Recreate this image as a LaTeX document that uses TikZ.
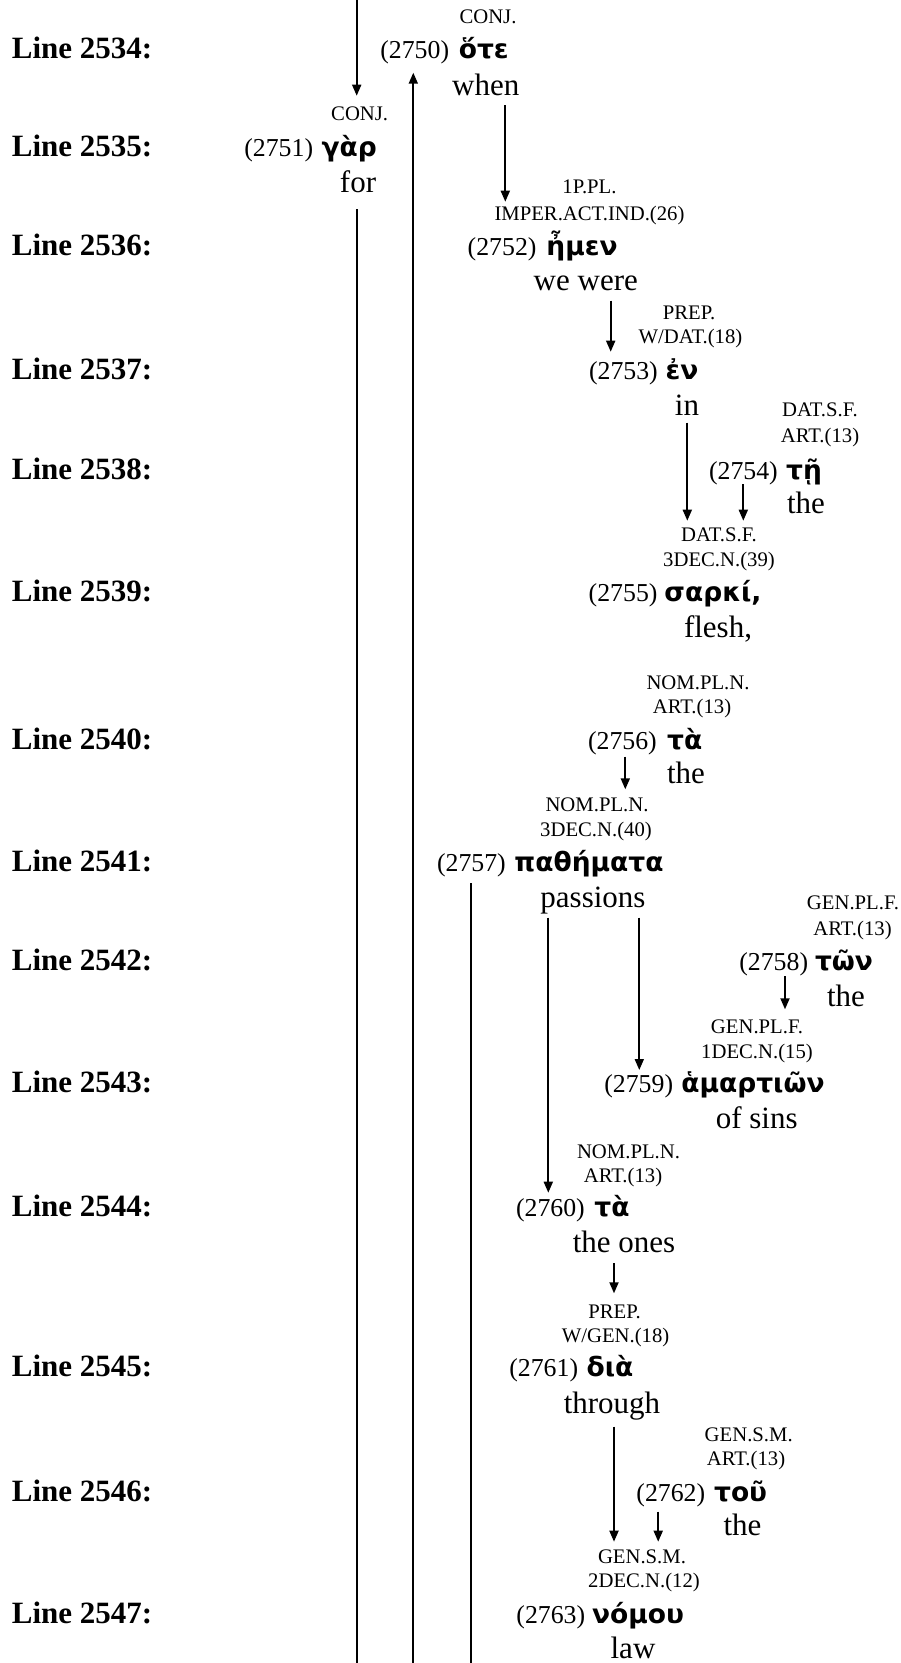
\documentclass[tikz,border=0pt]{standalone}
\usepackage{fontspec}
\setmainfont{Liberation Serif}
\newfontfamily\grkfont{DejaVu Sans}
\usetikzlibrary{arrows.meta,calc}
\tikzset{
 lbl/.style={font=\fontsize{31}{36}\selectfont\bfseries, anchor=base west, inner sep=0pt},
 tag/.style={font=\fontsize{20.7}{24}\selectfont, anchor=base, inner sep=0pt},
 num/.style={font=\fontsize{25.8}{30}\selectfont, anchor=base east, inner sep=0pt},
 grk/.style={font=\grkfont\bfseries\fontsize{26.5}{30}\selectfont, anchor=base, inner sep=0pt},
 gls/.style={font=\fontsize{31}{36}\selectfont, anchor=base, inner sep=0pt},
 arr/.style={line width=1.8pt, -{Triangle[length=11pt,width=9pt]}},
 ln/.style={line width=1.8pt},
}
\begin{document}
\begin{tikzpicture}[x=1pt,y=-1pt]
\fill[white] (0,0) rectangle (901,1663);
\useasboundingbox (0,0) rectangle (901,1663);
% line labels
\node[lbl] (L2534) at (11.7,58.3) {Line 2534:};
\node[lbl] (L2535) at (11.7,156.7) {Line 2535:};
\node[lbl] (L2536) at (11.7,255) {Line 2536:};
\node[lbl] (L2537) at (11.7,379) {Line 2537:};
\node[lbl] (L2538) at (11.7,479.3) {Line 2538:};
\node[lbl] (L2539) at (11.7,601.7) {Line 2539:};
\node[lbl] (L2540) at (11.7,749.3) {Line 2540:};
\node[lbl] (L2541) at (11.7,871.7) {Line 2541:};
\node[lbl] (L2542) at (11.7,970.7) {Line 2542:};
\node[lbl] (L2543) at (11.7,1092.7) {Line 2543:};
\node[lbl] (L2544) at (11.7,1216.7) {Line 2544:};
\node[lbl] (L2545) at (11.7,1376.7) {Line 2545:};
\node[lbl] (L2546) at (11.7,1501) {Line 2546:};
\node[lbl] (L2547) at (11.7,1623.3) {Line 2547:};
% 2750
\node[tag] (t750a) at (488,23.3) {CONJ.};
\node[grk] (g750) at (483.8,58.3) {ὅτε};
\node[num] (n750) at (449.3,58.3) {(2750)};
\node[gls] (e750) at (485.8,95) {when};
% 2751
\node[tag] (t751a) at (359.7,120.7) {CONJ.};
\node[grk] (g751) at (349.3,156.7) {γὰρ};
\node[num] (n751) at (313.3,156.7) {(2751)};
\node[gls] (e751) at (358,192.7) {for};
% 2752
\node[tag] (t752a) at (589.5,193.3) {1P.PL.};
\node[tag] (t752b) at (589.5,220) {IMPER.ACT.IND.(26)};
\node[grk] (g752) at (582,255) {ἦμεν};
\node[num] (n752) at (536.7,255) {(2752)};
\node[gls] (e752) at (585.8,290) {we were};
% 2753
\node[tag] (t753a) at (689,319) {PREP.};
\node[tag] (t753b) at (690.5,343) {W/DAT.(18)};
\node[grk] (g753) at (682,379) {ἐν};
\node[num] (n753) at (658,379) {(2753)};
\node[gls] (e753) at (687,415) {in};
% 2754
\node[tag] (t754a) at (820,416.7) {DAT.S.F.};
\node[tag] (t754b) at (820,442.7) {ART.(13)};
\node[grk] (g754) at (804,479.3) {τῇ};
\node[num] (n754) at (778,479.3) {(2754)};
\node[gls] (e754) at (806,513) {the};
% 2755
\node[tag] (t755a) at (719,541.7) {DAT.S.F.};
\node[tag] (t755b) at (719,566.7) {3DEC.N.(39)};
\node[grk] (g755) at (713,601.7) {σαρκί,};
\node[num] (n755) at (657.7,601.7) {(2755)};
\node[gls] (e755) at (718,637.3) {flesh,};
% 2756
\node[tag] (t756a) at (698,689.3) {NOM.PL.N.};
\node[tag] (t756b) at (692,713.3) {ART.(13)};
\node[grk] (g756) at (684.7,749.3) {τὰ};
\node[num] (n756) at (657,749.3) {(2756)};
\node[gls] (e756) at (686,783.3) {the};
% 2757
\node[tag] (t757a) at (597,811.7) {NOM.PL.N.};
\node[tag] (t757b) at (596,836) {3DEC.N.(40)};
\node[grk] (g757) at (589,871.7) {παθήματα};
\node[num] (n757) at (506,871.7) {(2757)};
\node[gls] (e757) at (593,907.3) {passions};
% 2758
\node[tag] (t758a) at (853,909.3) {GEN.PL.F.};
\node[tag] (t758b) at (852.5,935) {ART.(13)};
\node[grk] (g758) at (844,970.7) {τῶν};
\node[num] (n758) at (808.3,970.7) {(2758)};
\node[gls] (e758) at (846,1006) {the};
% 2759
\node[tag] (t759a) at (757,1033.3) {GEN.PL.F.};
\node[tag] (t759b) at (757,1058.3) {1DEC.N.(15)};
\node[grk] (g759) at (753,1092.7) {ἁμαρτιῶν};
\node[num] (n759) at (673.3,1092.7) {(2759)};
\node[gls] (e759) at (756.7,1128.3) {of sins};
% 2760
\node[tag] (t760a) at (628.5,1158.3) {NOM.PL.N.};
\node[tag] (t760b) at (623,1182.7) {ART.(13)};
\node[grk] (g760) at (612,1216.7) {τὰ};
\node[num] (n760) at (585,1216.7) {(2760)};
\node[gls] (e760) at (624,1252.7) {the ones};
% 2761
\node[tag] (t761a) at (614.5,1318.3) {PREP.};
\node[tag] (t761b) at (615.5,1342.7) {W/GEN.(18)};
\node[grk] (g761) at (610,1376.7) {διὰ};
\node[num] (n761) at (578.3,1376.7) {(2761)};
\node[gls] (e761) at (612,1413.3) {through};
% 2762
\node[tag] (t762a) at (748.7,1441.7) {GEN.S.M.};
\node[tag] (t762b) at (746,1465) {ART.(13)};
\node[grk] (g762) at (740.6,1501) {τοῦ};
\node[num] (n762) at (705.4,1501) {(2762)};
\node[gls] (e762) at (742.5,1535) {the};
% 2763
\node[tag] (t763a) at (642,1563.3) {GEN.S.M.};
\node[tag] (t763b) at (644,1587.7) {2DEC.N.(12)};
\node[grk] (g763) at (638,1623.3) {νόμου};
\node[num] (n763) at (585.4,1623.3) {(2763)};
\node[gls] (e763) at (633,1658.3) {law};
% connector columns and free ends
\coordinate (cA) at (356.7,0);
\coordinate (cB) at (413.3,0);
\coordinate (cC) at (471,0);
\coordinate (cD) at (505.3,0);
\coordinate (cE) at (610.7,0);
\coordinate (cF) at (687.3,0);
\coordinate (cG) at (743.3,0);
\coordinate (cH) at (625.3,0);
\coordinate (cI) at (548.3,0);
\coordinate (cJ) at (639.3,0);
\coordinate (cK) at (785,0);
\coordinate (cL) at (614,0);
\coordinate (cM) at (658.2,0);
\coordinate (bot) at (0,1663);
% connectors
\draw[arr] (cA) -- ($(cA |- t751a.base)+(0,-25)$);
\draw[ln] ($(cA |- e751.base)+(0,16.6)$) -- (cA |- bot);
\draw[arr] (cB |- bot) -- ($(cB |- n750.base)+(0,14.4)$);
\draw[ln] ($(cC |- n757.base)+(0,11.6)$) -- (cC |- bot);
\draw[arr] ($(cD |- e750.base)+(0,10)$) -- ($(cD |- t752b.base)+(0,-18.3)$);
\draw[arr] ($(cE |- e752.base)+(0,10.7)$) -- ($(cE |- n753.base)+(0,-27.3)$);
\draw[arr] ($(cF |- e753.base)+(0,7.7)$) -- ($(cF |- t755a.base)+(0,-21)$);
\draw[arr] ($(cG |- n754.base)+(0,4.7)$) -- ($(cG |- t755a.base)+(0,-21)$);
\draw[arr] ($(cH |- n756.base)+(0,7.4)$) -- ($(cH |- t757a.base)+(0,-22.4)$);
\draw[arr] ($(cI |- e757.base)+(0,10.4)$) -- ($(cI |- n760.base)+(0,-24)$);
\draw[arr] ($(cJ |- e757.base)+(0,10.4)$) -- ($(cJ |- n759.base)+(0,-22.7)$);
\draw[arr] ($(cK |- n758.base)+(0,5.3)$) -- ($(cK |- t759a.base)+(0,-24)$);
\draw[arr] ($(cL |- e760.base)+(0,10.6)$) -- ($(cL |- t761a.base)+(0,-25)$);
\draw[arr] ($(cL |- e761.base)+(0,13.4)$) -- ($(cL |- t763a.base)+(0,-21.6)$);
\draw[arr] ($(cM |- n762.base)+(0,10.7)$) -- ($(cM |- t763a.base)+(0,-21.6)$);
\end{tikzpicture}
\end{document}
